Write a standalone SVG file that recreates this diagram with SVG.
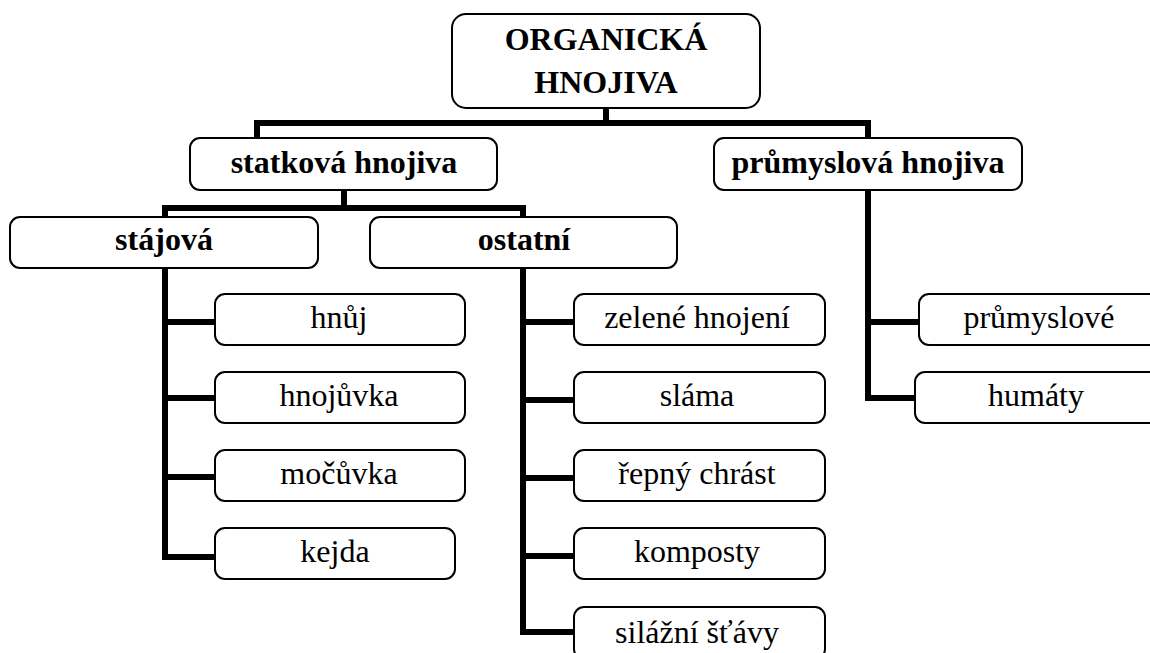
<svg xmlns="http://www.w3.org/2000/svg" width="1150" height="653" viewBox="0 0 1150 653">
<style>
.box{fill:#fff;stroke:#000;stroke-width:2}
.b{font-family:"Liberation Serif","Times New Roman",serif;font-size:32px;font-weight:bold;text-anchor:middle;fill:#000}
.r{font-family:"Liberation Serif","Times New Roman",serif;font-size:32px;text-anchor:middle;fill:#000}
.c{fill:none;stroke:#000;stroke-width:6;stroke-linecap:square;stroke-linejoin:miter}
</style>
<rect width="1150" height="653" fill="#fff"/>
<g id="connectors">
<path class="c" d="M606 108V123M257 123H868V138M257 123V138"/>
<path class="c" d="M344 190V208M165 208H523M165 208V217M523 208V217"/>
<path class="c" d="M165 268V557H215M165 322H215M165 398H215M165 477H215"/>
<path class="c" d="M523 268V632H574M523 322H574M523 400H574M523 478H574M523 556H574"/>
<path class="c" d="M868 190V398H915M868 322H919"/>
</g>
<g id="n_root"><rect class="box" x="452" y="14" width="308" height="94" rx="14"/><text class="b" x="606" y="50">ORGANICKÁ</text><text class="b" x="606" y="93">HNOJIVA</text></g>
<g id="n_statkova"><rect class="box" x="190" y="138" width="307" height="52" rx="10"/><text class="b" x="344" y="173">statková hnojiva</text></g>
<g id="n_prumyslova"><rect class="box" x="714" y="138" width="308" height="52" rx="10"/><text class="b" x="868" y="173">průmyslová hnojiva</text></g>
<g id="n_stajova"><rect class="box" x="10" y="217" width="308" height="51" rx="10"/><text class="b" x="164" y="250">stájová</text></g>
<g id="n_ostatni"><rect class="box" x="370" y="217" width="307" height="51" rx="10"/><text class="b" x="524" y="250">ostatní</text></g>
<g id="n_hnuj"><rect class="box" x="215" y="294" width="250" height="51" rx="10"/><text class="r" x="339" y="328">hnůj</text></g>
<g id="n_hnojuvka"><rect class="box" x="215" y="372" width="250" height="51" rx="10"/><text class="r" x="339" y="406">hnojůvka</text></g>
<g id="n_mocuvka"><rect class="box" x="215" y="450" width="250" height="51" rx="10"/><text class="r" x="339" y="484">močůvka</text></g>
<g id="n_kejda"><rect class="box" x="215" y="528" width="240" height="51" rx="10"/><text class="r" x="335" y="562">kejda</text></g>
<g id="n_zelene"><rect class="box" x="574" y="294" width="251" height="51" rx="10"/><text class="r" x="697" y="328">zelené hnojení</text></g>
<g id="n_slama"><rect class="box" x="574" y="372" width="251" height="51" rx="10"/><text class="r" x="697" y="406">sláma</text></g>
<g id="n_repny"><rect class="box" x="574" y="450" width="251" height="51" rx="10"/><text class="r" x="697" y="484">řepný chrást</text></g>
<g id="n_komposty"><rect class="box" x="574" y="528" width="251" height="51" rx="10"/><text class="r" x="697" y="562">komposty</text></g>
<g id="n_silazni"><rect class="box" x="574" y="607" width="251" height="52" rx="10"/><text class="r" x="697" y="643">silážní šťávy</text></g>
<g id="n_prumyslove"><rect class="box" x="919" y="294" width="245" height="51" rx="10"/><text class="r" x="1039" y="328">průmyslové</text></g>
<g id="n_humaty"><rect class="box" x="915" y="372" width="249" height="51" rx="10"/><text class="r" x="1036" y="406">humáty</text></g>
</svg>
